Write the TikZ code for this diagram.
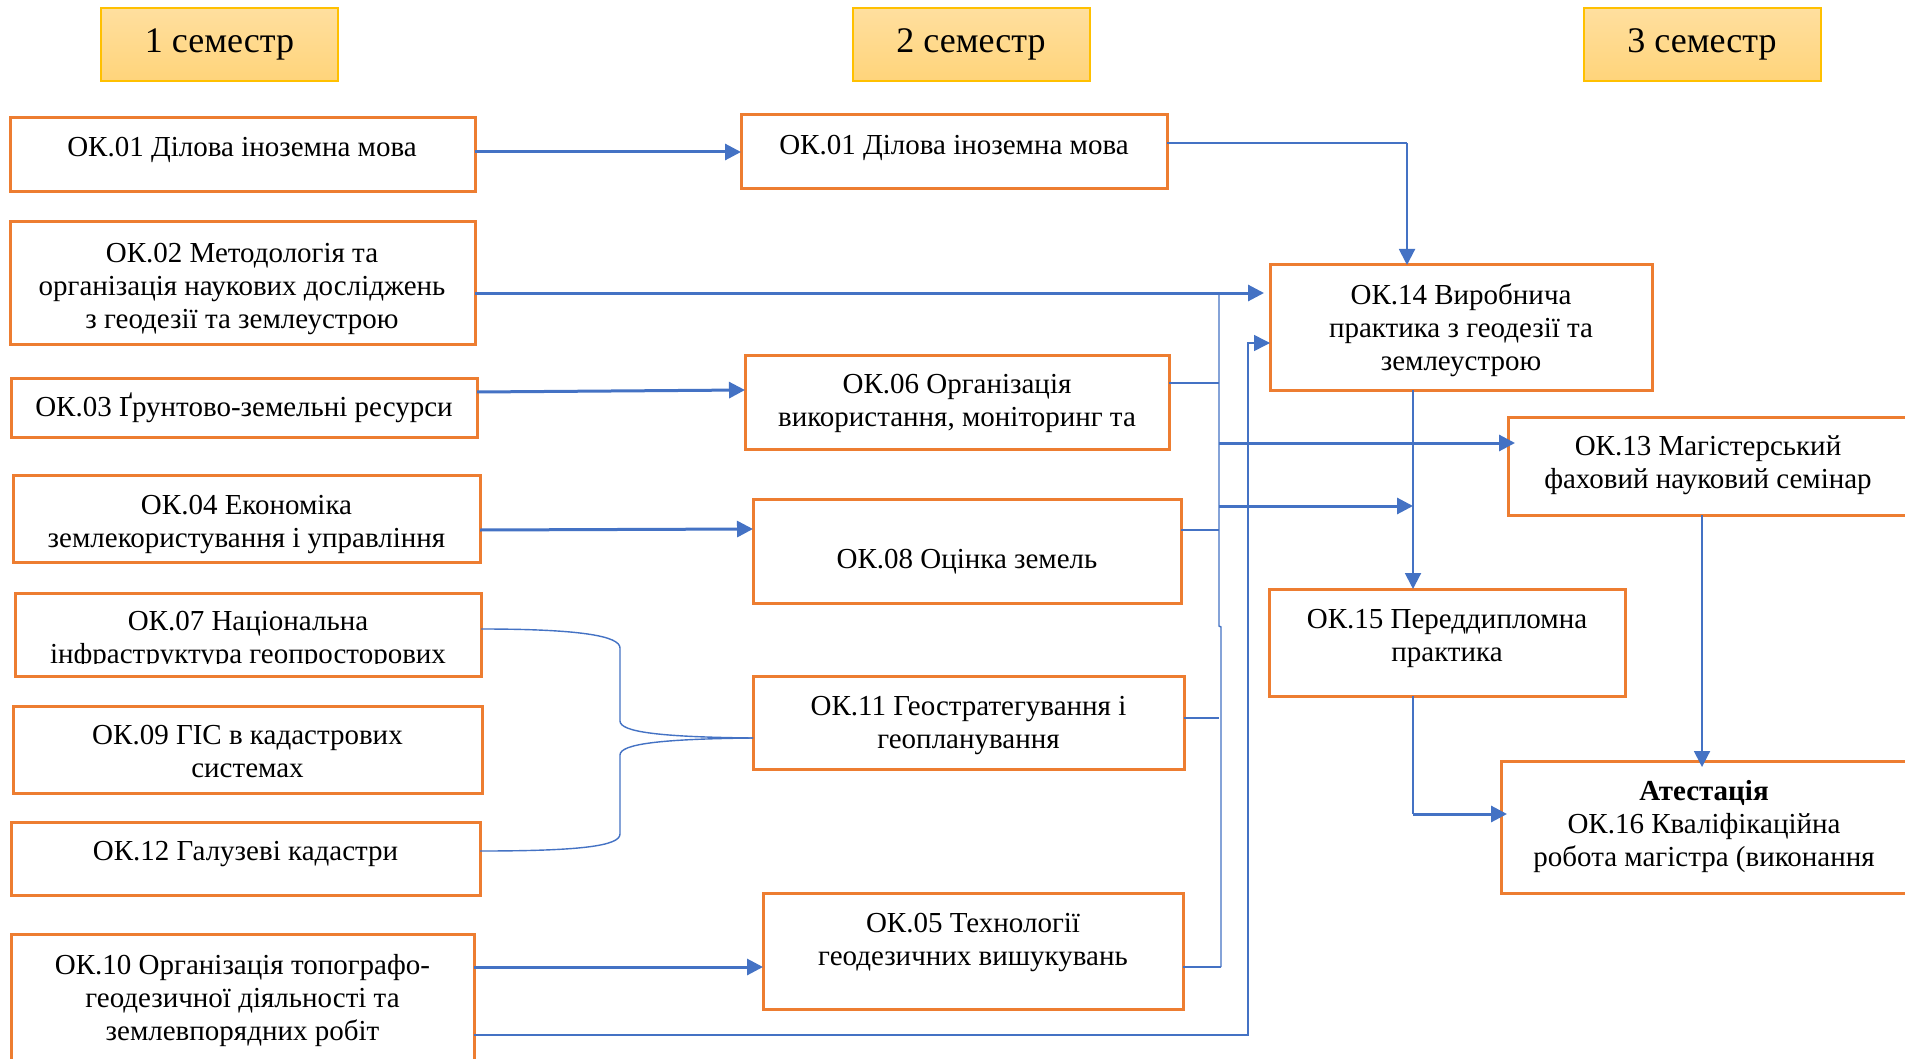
\documentclass[tikz,border=0pt]{standalone}
\usepackage{fontspec}
\setmainfont{Liberation Serif}
\usetikzlibrary{arrows.meta,calc}
\definecolor{orng}{HTML}{ED7D31}
\definecolor{blu}{HTML}{4472C4}
\definecolor{hdrline}{HTML}{FFC000}
\definecolor{hdrtop}{HTML}{FFDF9F}
\definecolor{hdrbot}{HTML}{FFD47A}
\newcommand\sr{\rule[-9pt]{0pt}{33pt}}
\newcommand\bx[5]{\node[box, minimum width={(#4-#2)*1pt}, minimum height={(#5-#3)*1pt}] (#1) at ({(#2+#4)/2},{(#3+#5)/2}) {};}
\tikzset{
  box/.style={draw=orng, line width=3pt, fill=white, inner sep=0pt, outer sep=0pt},
  txt/.style={font=\fontsize{29}{33}\selectfont, align=center, inner sep=0pt},
  hdr/.style={draw=hdrline, line width=2pt, top color=hdrtop, bottom color=hdrbot, minimum width=237pt, minimum height=73pt, inner sep=0pt, font=\fontsize{36}{43}\selectfont},
  con/.style={draw=blu, line width=1.4pt},
  med/.style={draw=blu, line width=2pt},
  thk/.style={draw=blu, line width=3pt},
  arr/.style={-{Triangle[length=16pt,width=16pt]}}
}
\begin{document}
\begin{tikzpicture}[x=1pt,y=-1pt]
\clip (0,0) rectangle (1905,1059);
\fill[white] (0,0) rectangle (1905,1059);

% headers
\node[hdr] (h1) at (219.5,44.5) {1 семестр};
\node[hdr] (h2) at (971,44.5) {2 семестр};
\node[hdr] (h3) at (1702,44.5) {3 семестр};

% boxes
\bx{b01}{10}{118}{475}{192}
\bx{b02}{10}{222}{475}{344}
\bx{b03}{11}{378}{477}{437}
\bx{b04}{13}{475}{480}{562}
\bx{b07}{15}{593}{481}{676}
\bx{b09}{13}{706}{482}{793}
\bx{b12}{11}{822}{480}{895}
\bx{b10}{11}{934}{474}{1080}
\bx{c01}{741}{115}{1167}{189}
\bx{c06}{745}{355}{1169}{449}
\bx{c08}{753}{499}{1181}{603}
\bx{c11}{753}{676}{1184}{769}
\bx{c05}{763}{893}{1183}{1009}
\bx{d14}{1270}{265}{1652}{390}
\bx{d13}{1508}{417}{1945}{515}
\bx{d15}{1269}{589}{1625}{696}
\bx{d16}{1501}{761}{1910}{893}

% junction coordinates
\coordinate (j1) at (1219,293);
\coordinate (j2) at (1219,626);
\coordinate (j3) at (1221,627);
\coordinate (j4) at (1221,967);
\coordinate (k1) at (1248,1035);
\coordinate (k2) at (1248,343);
\coordinate (m1) at (1407,143);
\coordinate (v1) at (1413,506);
\coordinate (v2) at (1413,814);
\coordinate (w1) at (1702,600);
\coordinate (bt) at (620,648);
\coordinate (bm) at (620,721);
\coordinate (bn) at (620,755);
\coordinate (bb) at (620,834);

% connectors
\draw[thk,arr] (b01.east |- c01.west) -- (c01.west);
\draw[thk,arr,shorten >=6pt] (b02.east |- j1) -- (d14.west |- j1);
\draw[thk,arr] (b03.east |- 0,392) -- (c06.west |- 0,390);
\draw[thk,arr] (b04.east |- 0,530) -- (c08.west |- 0,529);
\draw[thk,arr] (b10.east |- j4) -- (c05.west |- j4);
\draw[con,arr] (b10.east |- k1) -- (k1) -- (k2) -- (d14.west |- k2);
\draw[con] (c01.east |- m1) -- (m1);
\draw[med,arr] (m1) -- (d14.north -| m1);
\draw[con] (j1) -- (j2) -- (j3) -- (j4);
\draw[con] (c06.east |- 0,383) -- (j1 |- 0,383);
\draw[con] (c08.east |- 0,530) -- (j1 |- 0,530);
\draw[con] (c11.east |- 0,718) -- (j1 |- 0,718);
\draw[con] (c05.east |- j4) -- (j4);
\draw[thk,arr,shorten >=-7pt] (j1 |- 0,443) -- (d13.west |- 0,443);
\draw[thk,arr] (j1 |- v1) -- (v1);
\draw[med,arr] (d14.south -| v1) -- (d15.north -| v1);
\draw[con] (d15.south -| v2) -- (v2);
\draw[thk,arr,shorten >=-6pt] (v2) -- (d16.west |- v2);
\draw[med,arr,shorten >=-6pt] (d13.south -| w1) -- (d16.north -| w1);
% brace
\draw[con] (b07.east |- 0,629) .. controls (580,629) and (620,636) .. (bt) -- (bm) .. controls (620,732) and (660,737) .. (c11.west |- 0,738);
\draw[con] (b12.east |- 0,851) .. controls (580,851) and (620,846) .. (bb) -- (bn) .. controls (620,744) and (660,739) .. (c11.west |- 0,738);

% texts
\node[txt] (b01t) at (242,149) {\sr ОК.01 Ділова іноземна мова};
\node[txt] (b02t) at (242,287.7) {\sr ОК.02 Методологія та\\\sr організація наукових досліджень\\\sr з геодезії та землеустрою};
\node[txt] (b03t) at (244,409) {\sr ОК.03 Ґрунтово-земельні ресурси};
\node[txt] (b04t) at (246.5,523.5) {\sr ОК.04 Економіка\\\sr землекористування і управління};
\begin{scope}
\clip (15,593) rectangle (481,663);
\node[txt] (b07t) at (248,639.5) {\sr ОК.07 Національна\\\sr інфраструктура геопросторових};
\end{scope}
\node[txt] (b09t) at (247.5,753.5) {\sr ОК.09 ГІС в кадастрових\\\sr системах};
\node[txt] (b12t) at (245.5,853) {\sr ОК.12 Галузеві кадастри};
\node[txt] (b10t) at (242.5,1000) {\sr ОК.10 Організація топографо-\\\sr геодезичної діяльності та\\\sr землевпорядних робіт};

\node[txt] (c01t) at (954,147) {\sr ОК.01 Ділова іноземна мова};
\node[txt] (c06t) at (957,402) {\sr ОК.06 Організація\\\sr використання, моніторинг та};
\node[txt] (c08t) at (967,561) {\sr ОК.08 Оцінка земель};
\node[txt] (c11t) at (968.5,724.5) {\sr ОК.11 Геостратегування і\\\sr геопланування};
\node[txt] (c05t) at (973,941.5) {\sr ОК.05 Технології\\\sr геодезичних вишукувань};

\node[txt] (d14t) at (1461,330) {\sr ОК.14 Виробнича\\\sr практика з геодезії та\\\sr землеустрою};
\node[txt] (d13t) at (1708,464.5) {\sr ОК.13 Магістерський\\\sr фаховий науковий семінар};
\node[txt] (d15t) at (1447,637) {\sr ОК.15 Переддипломна\\\sr практика};
\node[txt] (d16t) at (1704,826) {\sr{\bfseries Атестація}\\\sr ОК.16 Кваліфікаційна\\\sr робота магістра (виконання};
\end{tikzpicture}
\end{document}
